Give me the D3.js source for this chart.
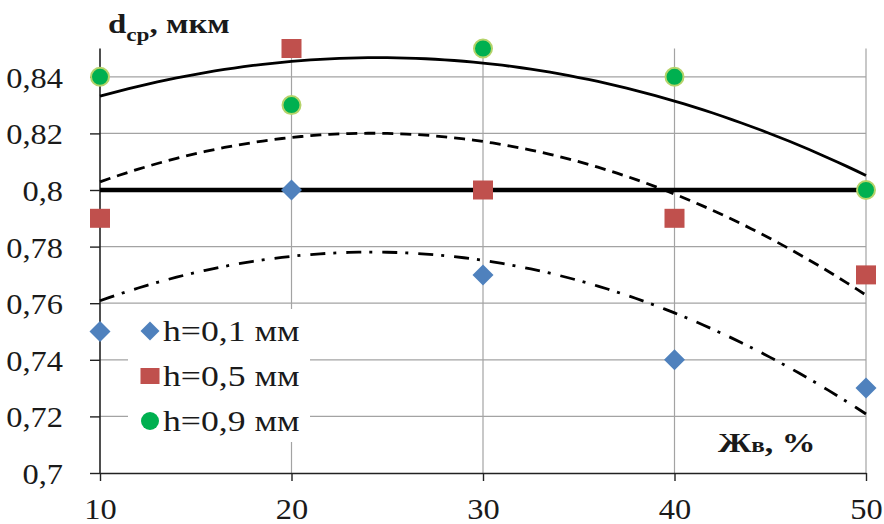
<!DOCTYPE html>
<html>
<head>
<meta charset="utf-8">
<script src="https://cdn.jsdelivr.net/npm/d3@7"></script>
<style>
  html, body { margin: 0; padding: 0; background: #fff; }
  svg { display: block; }
  text { font-family: "Liberation Serif", "Times New Roman", serif; fill: #1a1a1a; }
</style>
</head>
<body>
<svg id="chart" width="884" height="524"></svg>
<script>
// Moisture content Жв, % (x) and mean size d, µm for three layer heights
const moisture = [10, 20, 30, 40, 50];
const dH01 = [0.75, 0.80, 0.77, 0.74, 0.73];
const dH05 = [0.79, 0.85, 0.80, 0.79, 0.77];
const dH09 = [0.84, 0.83, 0.85, 0.84, 0.80];
const seriesNames = ["h=0,1 мм", "h=0,5 мм", "h=0,9 мм"];
const yTicks = [0.70, 0.72, 0.74, 0.76, 0.78, 0.80, 0.82, 0.84];
const xTicks = [10, 20, 30, 40, 50];
const baseLevel = 0.80;

const svg = d3.select("#chart");
const x = d3.scaleLinear().domain([10, 50]).range([100, 866]);
const y = d3.scaleLinear().domain([0.70, 0.85]).range([473, 48.5]);
const fmt = d => d3.format(".2~f")(d).replace(".", ",");
const stretch = 1.12;

// grid
const grid = svg.append("g").attr("stroke", "#a3a3a3").attr("stroke-width", 1.2);
grid.selectAll(".h").data(yTicks.filter(d => d > 0.7)).join("line")
  .attr("x1", x(10)).attr("x2", x(50)).attr("y1", d => y(d)).attr("y2", d => y(d));
grid.selectAll(".v").data(xTicks.filter(d => d > 10)).join("line")
  .attr("x1", d => x(d)).attr("x2", d => x(d)).attr("y1", y(0.85)).attr("y2", y(0.70));

// axes
const yAxis = svg.append("g").attr("transform", `translate(${x(10)},0)`)
  .call(d3.axisLeft(y).tickValues(yTicks).tickFormat(fmt).tickSize(10).tickPadding(23).tickSizeOuter(0));
const xAxis = svg.append("g").attr("transform", `translate(0,${y(0.70)})`)
  .call(d3.axisBottom(x).tickValues(xTicks).tickSize(8).tickPadding(17).tickSizeOuter(0));
[yAxis, xAxis].forEach(a => {
  a.select(".domain").attr("stroke", "#222").attr("stroke-width", 1.6);
  a.selectAll(".tick line").attr("stroke", "#222").attr("stroke-width", 1.4);
  a.selectAll("text").attr("font-size", 29).attr("fill", "#1a1a1a")
    .style("font-family", '"Liberation Serif", serif');
});
yAxis.select(".domain").attr("d", `M0,${y(0.70)}V${y(0.85)}`);
yAxis.selectAll(".tick text").attr("transform", `scale(${stretch},1)`).attr("dy", "0.36em");
xAxis.selectAll(".tick text").attr("transform", `scale(${stretch},1)`);

// baseline level
svg.append("line")
  .attr("x1", x(10)).attr("x2", x(50)).attr("y1", y(baseLevel)).attr("y2", y(baseLevel))
  .attr("stroke", "#000").attr("stroke-width", 4.5);

// quadratic least-squares trend lines
function quadFit(xs, ys) {
  let s = [0,0,0,0,0], t = [0,0,0];
  xs.forEach((xv, i) => {
    for (let k = 0; k <= 4; k++) s[k] += Math.pow(xv, k);
    for (let k = 0; k <= 2; k++) t[k] += Math.pow(xv, k) * ys[i];
  });
  const A = [[s[0], s[1], s[2], t[0]], [s[1], s[2], s[3], t[1]], [s[2], s[3], s[4], t[2]]];
  for (let i = 0; i < 3; i++) {
    for (let j = i + 1; j < 3; j++) {
      const f = A[j][i] / A[i][i];
      for (let k = i; k < 4; k++) A[j][k] -= f * A[i][k];
    }
  }
  const c = [0,0,0];
  for (let i = 2; i >= 0; i--) {
    let v = A[i][3];
    for (let k = i + 1; k < 3; k++) v -= A[i][k] * c[k];
    c[i] = v / A[i][i];
  }
  return xv => c[0] + c[1] * xv + c[2] * xv * xv;
}
const line = d3.line().x(d => x(d[0])).y(d => y(d[1]));
const trends = [
  { ys: dH01, dash: "15,8,3,10" },
  { ys: dH05, dash: "11,7" },
  { ys: dH09, dash: null }
];
trends.forEach(tr => {
  const f = quadFit(moisture, tr.ys);
  const pts = d3.range(10, 50.01, 0.5).map(v => [v, f(v)]);
  svg.append("path").datum(pts).attr("d", line)
    .attr("fill", "none").attr("stroke", "#000").attr("stroke-width", 2.8)
    .attr("stroke-dasharray", tr.dash);
});

// markers
const diamond = s => `M0,${-s}L${s},0L0,${s}L${-s},0Z`;
const blue = "#4f81bd", red = "#c0504d", green = "#00b050";
svg.append("g").selectAll("path").data(moisture.map((m, i) => [m, dH01[i]])).join("path")
  .attr("transform", d => `translate(${x(d[0])},${y(d[1])})`)
  .attr("d", diamond(10.5)).attr("fill", blue);
svg.append("g").selectAll("rect").data(moisture.map((m, i) => [m, dH05[i]])).join("rect")
  .attr("x", d => x(d[0]) - 10).attr("y", d => y(d[1]) - 9.5)
  .attr("width", 20).attr("height", 19).attr("fill", red);
svg.append("g").selectAll("circle").data(moisture.map((m, i) => [m, dH09[i]])).join("circle")
  .attr("cx", d => x(d[0])).attr("cy", d => y(d[1])).attr("r", 9)
  .attr("fill", green).attr("stroke", "#b5d36a").attr("stroke-width", 2);

// legend
const lg = svg.append("g");
lg.append("rect").attr("x", 128).attr("y", 309).attr("width", 182).attr("height", 133).attr("fill", "#fff");
const rows = [331, 376, 421];
lg.append("path").attr("transform", `translate(150,${rows[0]})`).attr("d", diamond(9.5)).attr("fill", blue);
lg.append("rect").attr("x", 140.5).attr("y", rows[1] - 8).attr("width", 19).attr("height", 16).attr("fill", red);
lg.append("circle").attr("cx", 150).attr("cy", rows[2]).attr("r", 9).attr("fill", green);
lg.selectAll("text").data(seriesNames).join("text")
  .attr("transform", (d, i) => `translate(163,${rows[i] + 10}) scale(1.23,1)`)
  .attr("font-size", 29).text(d => d);

// axis titles
const yt = svg.append("text").attr("transform", `translate(108,33) scale(1.22,1)`)
  .attr("font-size", 27).attr("font-weight", "bold");
yt.append("tspan").text("d");
yt.append("tspan").attr("font-size", 19).attr("dy", 8).text("ср");
yt.append("tspan").attr("dy", -8).text(", мкм");

const xt = svg.append("text").attr("transform", `translate(718,452) scale(1.25,1)`)
  .attr("font-size", 27).attr("font-weight", "bold");
xt.append("tspan").text("Ж");
xt.append("tspan").attr("font-size", 20).text("в");
xt.append("tspan").text(", %");
</script>
</body>
</html>
